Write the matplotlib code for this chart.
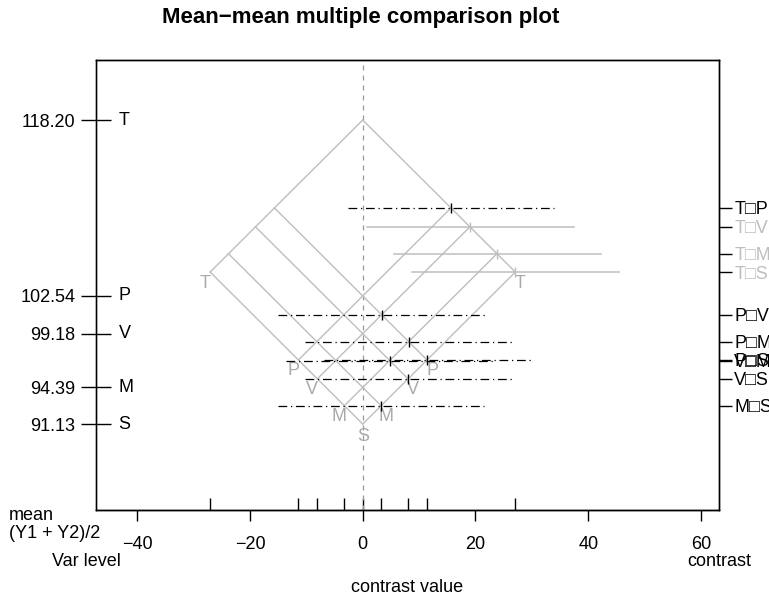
import matplotlib
matplotlib.use("Agg")
import matplotlib.pyplot as plt
import matplotlib.transforms as mtransforms
import numpy as np

plt.rcParams["font.family"] = ["Liberation Sans", "DejaVu Sans"]
plt.rcParams["font.size"] = 13

# group means (left axis)
levels = ["T", "P", "V", "M", "S"]
means = [118.20, 102.54, 99.18, 94.39, 91.13]

# pairwise contrasts
pair_names = ["T\u25a1P", "T\u25a1V", "T\u25a1M", "T\u25a1S", "P\u25a1V",
              "P\u25a1M", "P\u25a1S", "V\u25a1M", "V\u25a1S", "M\u25a1S"]
pair_center = [110.37, 108.69, 106.295, 104.665, 100.86,
               98.465, 96.835, 96.785, 95.155, 92.76]
pair_est = [15.66, 19.02, 23.81, 27.07, 3.36, 8.15, 11.41, 4.79, 8.05, 3.26]
pair_lower = [-2.7, 0.7, 5.5, 8.8, -15.0, -10.2, -6.9, -13.6, -10.3, -15.1]
pair_upper = [34.0, 37.4, 42.2, 45.4, 21.7, 26.5, 29.8, 23.1, 26.4, 21.6]
pair_signif = [False, True, True, True, False, False, False, False, False, False]

xticks = [-40, -20, 0, 20, 40, 60]

grey_line = "#BEBEBE"
grey_text = "#AAAAAA"

fig = plt.figure(figsize=(7.69, 5.95), dpi=100)
ax = fig.add_axes([0.1242, 0.1429, 0.8108, 0.7562])
ax.set_xlim(-47.4, 63.2)
ax.set_ylim(83.48, 123.54)

# zero line
ax.axvline(0, color="#999999", lw=0.9, ls=(0, (4, 4)), zorder=1)

# iso-mean grid
m = np.array(means)
mmax, mmin = m.max(), m.min()
for lev, mi in zip(levels, means):
    # line going down to the right
    ax.plot([mi - mmax, mi - mmin], [(mi + mmax) / 2, (mi + mmin) / 2],
            color=grey_line, lw=1, zorder=2)
    # line going down to the left
    ax.plot([mmax - mi, mmin - mi], [(mi + mmax) / 2, (mi + mmin) / 2],
            color=grey_line, lw=1, zorder=2)
    x_end = mi - mmin
    y_end = (mi + mmin) / 2
    if x_end == 0:
        ax.annotate(lev, (0, y_end), xytext=(0, -12), textcoords="offset pixels",
                    ha="center", va="center", color=grey_text, fontsize=13)
    else:
        for sgn in (-1, 1):
            ax.annotate(lev, (sgn * x_end, y_end), xytext=(sgn * 5, -11),
                        textcoords="offset pixels", ha="center", va="center",
                        color=grey_text, fontsize=13)

# confidence intervals
for yc, est, lo, hi, sig in zip(pair_center, pair_est, pair_lower, pair_upper, pair_signif):
    if sig:
        ax.plot([lo, hi], [yc, yc], color=grey_line, lw=1.1, zorder=3)
        ax.plot([est], [yc], marker="|", ms=7, mew=1, color=grey_line, zorder=4)
    else:
        ax.plot([lo, hi], [yc, yc], color="black", lw=0.9,
                ls=(0, (7, 3, 1, 3)), zorder=3)
        ax.plot([est], [yc], marker="|", ms=7, mew=1, color="black", zorder=4)

# left axis: means
ax.set_yticks(means)
ax.set_yticklabels([f"{v:.2f}" for v in means])
ax.tick_params(axis="y", direction="inout", length=21, width=1, pad=4,
               labelsize=13)
ax.spines["left"].set_color("#444444")
trans = mtransforms.blended_transform_factory(ax.transAxes, ax.transData)
for lev, mi in zip(levels, means):
    ax.annotate(lev, (0, mi), xycoords=trans, xytext=(23, 0),
                textcoords="offset pixels", ha="left", va="center", fontsize=13)

# bottom axis
ax.set_xticks(xticks)
ax.tick_params(axis="x", direction="out", length=8, width=1, pad=11,
               labelsize=13)
sec = ax.secondary_xaxis("bottom")
vertex_x = sorted(set([mi - mmin for mi in means] + [mmin - mi for mi in means]))
sec.set_xticks(vertex_x)
sec.tick_params(axis="x", direction="in", length=9, width=1,
                labelbottom=False)

# right axis: contrasts
ax2 = ax.twinx()
ax2.set_ylim(ax.get_ylim())
ax2.set_yticks(pair_center)
ax2.set_yticklabels(pair_names)
ax2.tick_params(axis="y", direction="out", length=9, width=1, pad=2,
                labelsize=13)
for lab, sig in zip(ax2.get_yticklabels(), pair_signif):
    lab.set_color(grey_line if sig else "black")

for a in (ax, ax2):
    for s in a.spines.values():
        s.set_linewidth(1)

fig.text(361 / 769, 1 - 17 / 595, "Mean\u2212mean multiple comparison plot",
         ha="center", va="center", fontsize=16, fontweight="bold")
fig.text(9 / 769, 1 - 516 / 595, "mean", ha="left", va="center", fontsize=13)
fig.text(9 / 769, 1 - 534 / 595, "(Y1 + Y2)/2", ha="left", va="center", fontsize=13)
fig.text(86 / 769, 1 - 561 / 595, "Var level", ha="center", va="center", fontsize=13)
fig.text(719 / 769, 1 - 561 / 595, "contrast", ha="center", va="center", fontsize=13)
fig.text(407 / 769, 1 - 588 / 595, "contrast value", ha="center", va="center", fontsize=13)

fig.savefig("out.png", dpi=100)
